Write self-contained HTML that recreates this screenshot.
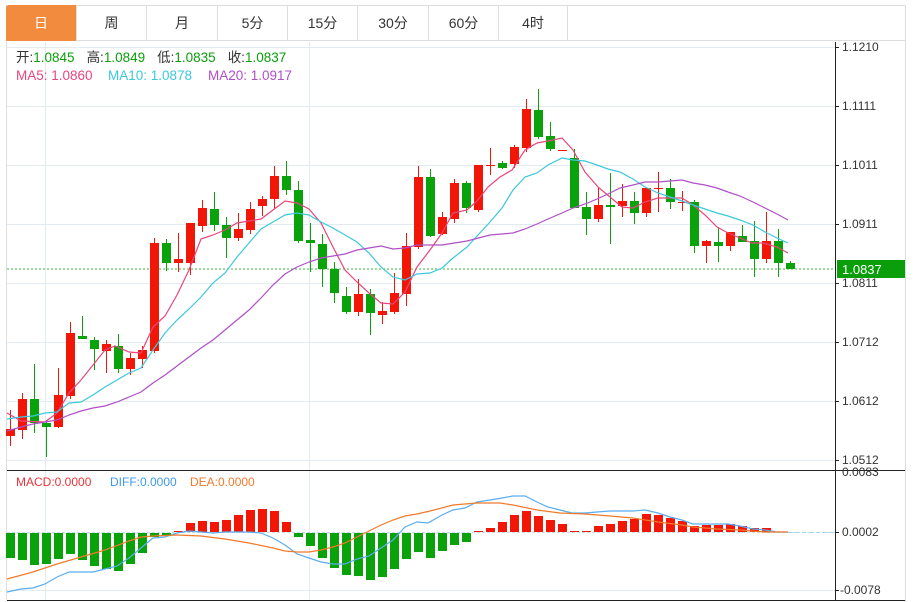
<!DOCTYPE html>
<html><head><meta charset="utf-8"><style>
body{margin:0;background:#fff;width:915px;height:602px;overflow:hidden;font-family:"Liberation Sans","Noto Sans CJK SC",sans-serif;}
.tab{position:absolute;top:5px;height:36px;line-height:36px;text-align:center;font-size:14px;color:#333;border-right:1px solid #ddd;box-sizing:border-box;}
</style></head><body>
<div style="position:absolute;left:6px;top:5px;width:900px;height:36px;border:1px solid #ddd;box-sizing:border-box;"></div>
<div class="tab" style="left:6px;width:71px;background:#f38b3e;color:#fff;border-radius:3px 0 0 0;">日</div>
<div class="tab" style="left:77px;width:70px;">周</div>
<div class="tab" style="left:147px;width:71px;">月</div>
<div class="tab" style="left:218px;width:70px;">5分</div>
<div class="tab" style="left:288px;width:70px;">15分</div>
<div class="tab" style="left:358px;width:71px;">30分</div>
<div class="tab" style="left:429px;width:70px;">60分</div>
<div class="tab" style="left:499px;width:69px;">4时</div>
<svg id="s" width="915" height="602" style="position:absolute;left:0;top:0" xmlns="http://www.w3.org/2000/svg" font-family="Liberation Sans, Noto Sans CJK SC, sans-serif">
<line x1="6.5" y1="41" x2="6.5" y2="600" stroke="#ddd"/>
<line x1="905.5" y1="41" x2="905.5" y2="602" stroke="#ddd"/>
<g stroke="#e3ebf2" stroke-width="1">
<line x1="7" y1="47.5" x2="835" y2="47.5"/><line x1="7" y1="106.5" x2="835" y2="106.5"/><line x1="7" y1="165.5" x2="835" y2="165.5"/><line x1="7" y1="224.5" x2="835" y2="224.5"/><line x1="7" y1="283.5" x2="835" y2="283.5"/><line x1="7" y1="342.5" x2="835" y2="342.5"/><line x1="7" y1="401.5" x2="835" y2="401.5"/><line x1="7" y1="460.5" x2="835" y2="460.5"/>
<line x1="7" y1="590.5" x2="835" y2="590.5"/>
<line x1="45.5" y1="42" x2="45.5" y2="600"/><line x1="309.5" y1="42" x2="309.5" y2="600"/>
</g>
<line x1="7" y1="532.5" x2="835" y2="532.5" stroke="#bfe0e8" stroke-dasharray="3,2"/>
<line x1="835.5" y1="42" x2="835.5" y2="600" stroke="#222"/>
<line x1="7" y1="470.5" x2="905" y2="470.5" stroke="#222"/>
<line x1="7" y1="600.5" x2="905" y2="600.5" stroke="#222"/>
<g font-size="12" fill="#333">
<text x="842" y="51">1.1210</text><text x="842" y="110">1.1111</text><text x="842" y="169">1.1011</text><text x="842" y="228">1.0911</text><text x="842" y="287">1.0811</text><text x="842" y="346">1.0712</text><text x="842" y="405">1.0612</text><text x="842" y="464">1.0512</text>
<text x="842" y="476">0.0083</text><text x="842" y="536">0.0002</text><text x="840" y="594">-0.0078</text>
</g>
<g stroke="#222"><line x1="835" y1="47.5" x2="839" y2="47.5"/><line x1="835" y1="106.5" x2="839" y2="106.5"/><line x1="835" y1="165.5" x2="839" y2="165.5"/><line x1="835" y1="224.5" x2="839" y2="224.5"/><line x1="835" y1="283.5" x2="839" y2="283.5"/><line x1="835" y1="342.5" x2="839" y2="342.5"/><line x1="835" y1="401.5" x2="839" y2="401.5"/><line x1="835" y1="460.5" x2="839" y2="460.5"/><line x1="835" y1="532.5" x2="839" y2="532.5"/><line x1="835" y1="590.5" x2="839" y2="590.5"/></g>
<line x1="7" y1="269" x2="835" y2="269" stroke="#3cb93c" stroke-dasharray="2,2"/>
<rect x="837" y="260" width="68" height="18" fill="#0a9e0a"/>
<text x="842" y="274" font-size="13" fill="#fff">1.0837</text>
<g font-size="13.5">
<text x="16" y="62"><tspan fill="#333">开:</tspan><tspan fill="#0a9e0a">1.0845</tspan><tspan fill="#333" dx="12">高:</tspan><tspan fill="#0a9e0a">1.0849</tspan><tspan fill="#333" dx="12">低:</tspan><tspan fill="#0a9e0a">1.0835</tspan><tspan fill="#333" dx="12">收:</tspan><tspan fill="#0a9e0a">1.0837</tspan></text>
<text x="16" y="80" fill="#e8467c">MA5: 1.0860</text><text x="108" y="80" fill="#3cc8dc">MA10: 1.0878</text><text x="208" y="80" fill="#b04fc8">MA20: 1.0917</text>
<text x="16" y="486" font-size="12" fill="#e8353a">MACD:0.0000</text><text x="110" y="486" font-size="12" fill="#3d9ae8">DIFF:0.0000</text><text x="190" y="486" font-size="12" fill="#f07a2a">DEA:0.0000</text>
</g>
<g id="g"></g>
</svg>
<script>
var R="#f21607",G="#0aa20a",ns="http://www.w3.org/2000/svg",g=document.getElementById("g");
function el(t,a){var e=document.createElementNS(ns,t);for(var k in a)e.setAttribute(k,a[k]);g.appendChild(e);return e;}
var c=[["r",429,436,410,446],["r",399,430,393,439],["g",399,423,364,433],["g",423,427,420,457],["r",395,427,368,428],["r",333,396,322,399],["g",336,339,316,339],["g",340,349,337,370],["r",344,351,340,373],["g",346,369,334,373],["r",358,369,353,375],["r",350,359,346,368],["r",243,351,238,353],["g",243,263,239,271],["r",259,263,233,272],["r",223,263,223,275],["r",208,226,200,232],["g",209,225,192,231],["g",225,238,217,258],["r",229,238,213,241],["r",209,230,202,234],["r",199,206,196,216],["r",176,199,166,209],["g",176,190,161,195],["g",190,241,181,243],["g",240,243,223,272],["g",244,269,234,287],["g",269,293,262,303],["g",296,312,287,314],["r",294,312,279,316],["g",294,313,289,335],["r",311,315,302,324],["r",293,312,273,314],["r",246,294,233,306],["r",177,247,166,249],["g",177,236,169,237],["r",217,234,212,235],["r",183,219,179,223],["g",183,208,181,213],["r",165,210,165,212],["r",165,166,148,175],["g",163,168,161,169],["r",147,164,145,168],["r",109,148,99,152],["g",110,137,89,139],["g",136,149,122,151],["r",150,151,150,151],["g",158,208,149,208],["g",207,219,192,235],["r",205,219,188,222],["g",205,207,173,244],["r",201,206,184,217],["g",201,213,192,224],["r",188,213,188,217],["r",188,189,172,212],["g",188,202,179,209],["r",202,203,191,211],["g",202,246,200,253],["r",241,246,240,263],["g",242,246,227,262],["r",232,246,232,251],["g",236,242,225,242],["g",241,259,221,277],["r",241,259,212,263],["g",241,263,229,277],["g",263,269,261,269]];
var m=[-25,-27,-32,-31,-26,-21,-27,-33,-36,-38,-31,-20,-4,-3,1,9,11,10,12,17,22,23,21,10,-4,-13,-25,-35,-42,-43,-47,-44,-36,-26,-19,-25,-18,-12,-9,1,4,10,17,21,16,12,8,1,1,6,8,11,13,18,17,14,11,6,7,7,8,6,4,4,0,0];
for(var i=0;i<66;i++){var x=10+12*i,d=c[i],col=d[0]=="r"?R:G;
el("line",{x1:x+.5,x2:x+.5,y1:d[3],y2:d[4],stroke:col});
el("rect",{x:x-4,y:d[1],width:9,height:Math.max(1,d[2]-d[1]),fill:col});
var v=m[i];if(v!=0)el("rect",{x:x-4,y:v>0?532-v:533,width:9,height:Math.abs(v),fill:v>0?R:G});}
function pl(p,col){el("polyline",{points:p,fill:"none",stroke:col,"stroke-width":1.2});}
pl("7,413 21,421 45,422 57,413 69,393 81,380 93,365 105,350 115,346 129,352 141,353 153,327 165,316 177,295 189,270 201,239 213,235 225,230 237,223 249,221 261,219 273,210 285,201 297,203 309,209 321,223 333,247 345,270 357,282 369,293 381,303 393,304 405,292 417,267 430,250 442,233 453,213 467,210 477,201 488,187 500,177 512,170 525,150 537,143 548,141 562,138 573,150 585,172 598,187 610,197 622,207 633,208 645,202 658,198 670,198 682,198 693,205 705,215 717,227 728,233 740,238 752,243 763,243 777,247 788,253","#e8467c");
pl("7,419 21,417 33,416 45,413 57,412 69,403 81,402 93,395 105,387 117,380 129,373 141,368 153,350 165,333 177,320 189,309 201,297 213,283 225,273 237,257 249,243 261,229 273,222 285,215 297,213 309,215 321,222 333,228 345,235 357,242 369,253 381,267 393,277 405,280 417,274 430,273 442,268 453,258 467,247 478,235 490,222 502,208 513,190 525,177 537,173 548,165 562,158 573,160 585,161 597,165 608,169 620,172 633,179 645,187 658,193 670,197 682,201 693,205 705,209 717,213 728,216 740,220 753,225 765,232 777,238 788,243","#3cc8dc");
pl("7,431 21,427 33,424 45,422 57,420 69,415 81,411 93,408 105,406 117,402 129,397 141,392 153,383 165,375 177,366 189,357 201,348 213,340 225,330 237,320 249,310 261,298 273,285 285,274 297,267 309,262 321,258 333,256 345,254 357,250 369,248 381,246 393,249 405,248 417,245 442,245 467,241 490,235 513,233 525,229 537,224 548,219 562,213 573,208 585,204 597,199 608,194 620,188 633,185 645,182 658,182 670,181 682,180 693,183 705,185 717,188 728,192 740,196 753,202 765,208 777,214 788,220","#b04fc8");
pl("7,592 21,589 33,588 45,584 57,577 69,572 93,572 105,569 117,566 129,558 141,548 153,538 165,537 177,533 189,531 201,532 213,533 225,532 249,532 261,533 273,538 285,545 297,554 309,558 321,562 333,564 345,564 357,559 369,556 381,548 393,540 405,527 417,522 428,523 442,515 453,510 465,508 477,502 490,500 502,498 513,496 525,496 537,502 548,507 560,510 572,513 585,513 597,512 610,511 633,511 645,510 658,513 670,517 682,520 693,524 717,524 728,524 740,526 753,529 765,530 777,532 788,532","#5aaef0");
pl("7,579 33,572 57,564 81,557 105,550 129,541 141,537 153,536 177,535 201,536 225,539 249,543 273,548 285,551 297,552 309,552 321,550 333,547 345,543 357,537 369,531 381,525 393,520 405,516 417,514 430,511 453,505 477,503 500,503 513,505 537,510 560,513 585,514 610,516 633,518 658,522 682,525 693,527 717,529 740,530 765,532 788,532","#f07a2a");
el("line",{x1:788,x2:835,y1:532.5,y2:532.5,stroke:"#9fd4ec","stroke-dasharray":"4,3"});
</script>
</body></html>
